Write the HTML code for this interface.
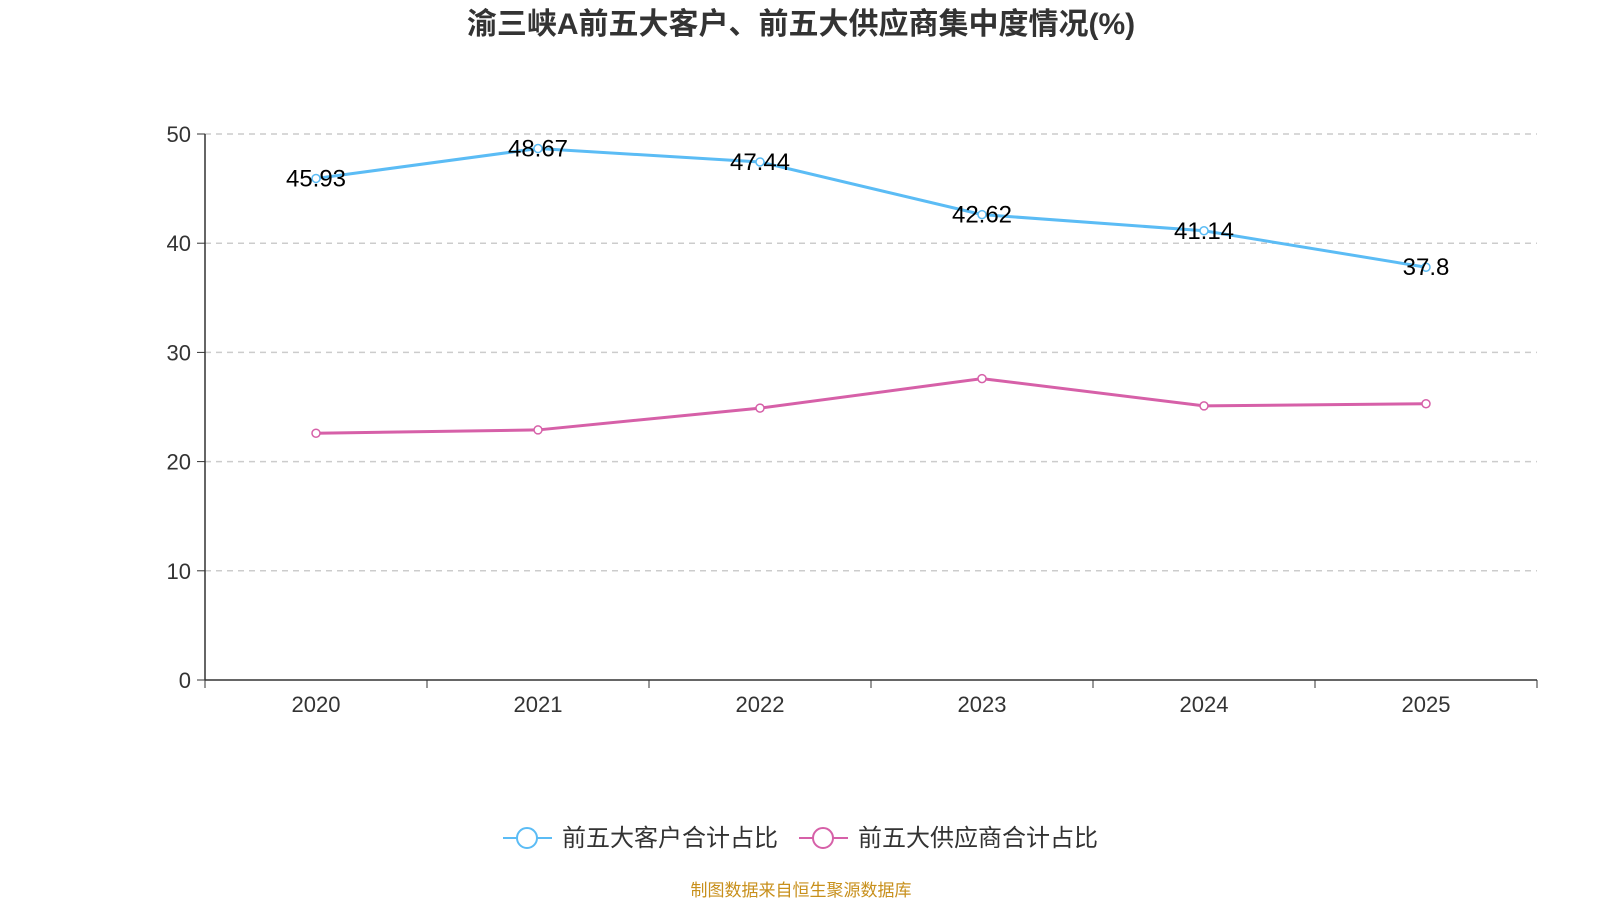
<!DOCTYPE html>
<html><head><meta charset="utf-8">
<style>
body{margin:0;background:#fff;width:1600px;height:900px;overflow:hidden;font-family:"Liberation Sans","Noto Sans CJK SC",sans-serif;}
</style></head>
<body>
<svg id="chart" width="1600" height="900" xmlns="http://www.w3.org/2000/svg">
<text x="801" y="34" text-anchor="middle" font-size="30" font-weight="bold" fill="#333" font-family="Liberation Sans, Noto Sans CJK SC, sans-serif">渝三峡A前五大客户、前五大供应商集中度情况(%)</text>
<g id="grid"></g><g id="axes"></g><g id="series"></g>
<g>
<line x1="503" y1="838" x2="552" y2="838" stroke="#5bbcf5" stroke-width="2"/>
<circle cx="527" cy="838" r="10" fill="#fff" stroke="#5bbcf5" stroke-width="2"/>
<text x="562" y="846" font-size="24" fill="#333">前五大客户合计占比</text>
<line x1="799" y1="838" x2="848" y2="838" stroke="#d660a8" stroke-width="2"/>
<circle cx="823" cy="838" r="10" fill="#fff" stroke="#d660a8" stroke-width="2"/>
<text x="858" y="846" font-size="24" fill="#333">前五大供应商合计占比</text>
</g>
<text x="801" y="896" text-anchor="middle" font-size="17" fill="#c8901c">制图数据来自恒生聚源数据库</text>
</svg>
<script>
const categories=["2020","2021","2022","2023","2024","2025"];
const customers=[45.93,48.67,47.44,42.62,41.14,37.8];
const suppliers=[22.6,22.9,24.9,27.6,25.1,25.3];
const yTicks=[0,10,20,30,40,50];
const NS="http://www.w3.org/2000/svg";
const x0=205,x1=1537,y0=680,y1=134,yMax=50;
const bw=(x1-x0)/categories.length;
const xS=i=>x0+bw*(i+0.5);
const yS=v=>y0-(v/yMax)*(y0-y1);
function mk(tag,attrs,parent,txt){const e=document.createElementNS(NS,tag);for(const k in attrs)e.setAttribute(k,attrs[k]);if(txt!==undefined)e.textContent=txt;parent.appendChild(e);return e;}
const grid=document.getElementById('grid'),axes=document.getElementById('axes'),ser=document.getElementById('series');
yTicks.forEach(t=>{
  const y=yS(t);
  if(t>0){const g=mk('line',{x1:x0,x2:x1,y1:y,y2:y,stroke:'#ccc','stroke-dasharray':'6,5','stroke-width':1.5},grid);
  
  }
  mk('line',{x1:x0-8,x2:x0,y1:y,y2:y,stroke:'#333'},axes);
  const l=mk('text',{x:x0-14,y:y+8,'text-anchor':'end','font-size':22,fill:'#333'},axes,t);
  
  
});
const ya=mk('line',{x1:x0,x2:x0,y1:y1,y2:y0,stroke:'#333','stroke-width':1.5},axes);


const xa=mk('line',{x1:x0,x2:x1,y1:y0,y2:y0,stroke:'#333','stroke-width':1.5},axes);


for(let i=0;i<=categories.length;i++){mk('line',{x1:x0+bw*i,x2:x0+bw*i,y1:y0,y2:y0+8,stroke:'#333'},axes);}
categories.forEach((c,i)=>{
  const l=mk('text',{x:xS(i),y:712,'text-anchor':'middle','font-size':22,fill:'#333'},axes,c);
  
  
});
function drawSeries(vals,color,name,labels){
  const pts=vals.map((v,i)=>xS(i)+','+yS(v)).join(' ');
  const pl=mk('polyline',{points:pts,fill:'none',stroke:color,'stroke-width':3},ser);
  
  
  vals.forEach((v,i)=>{
    const c=mk('circle',{cx:xS(i),cy:yS(v),r:4,fill:'#fff',stroke:color,'stroke-width':1.5},ser);
    
    
    if(labels){const t=mk('text',{x:xS(i),y:yS(v)+8,'text-anchor':'middle','font-size':24,fill:'#000'},ser,v);
    
    }
  });
}
drawSeries(suppliers,'#d660a8','suppliers',false);
drawSeries(customers,'#5bbcf5','customers',true);
</script>
</body></html>
